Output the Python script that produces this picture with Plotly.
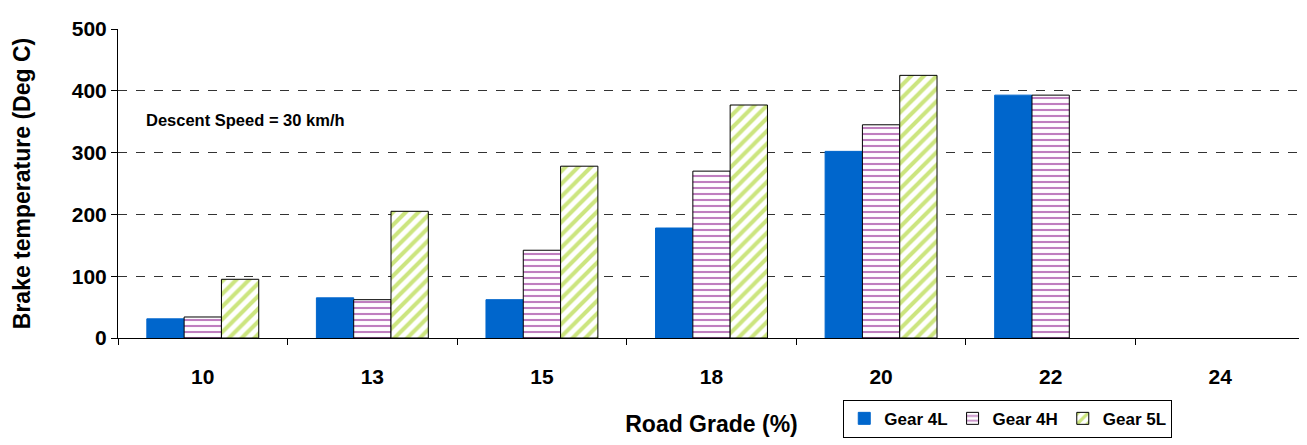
import plotly.graph_objects as go

grades = ["10", "13", "15", "18", "20", "22", "24"]
gear_4l = [31, 65, 62, 178, 302, 393, None]
gear_4h = [34, 62, 142, 270, 345, 393, None]
gear_5l = [95, 205, 278, 377, 425, None, None]

fig = go.Figure()
fig.add_bar(x=grades, y=gear_4l, name="<b>Gear 4L</b>", marker=dict(color="#0066CC", line=dict(color="#0066CC", width=1)))
fig.add_bar(x=grades, y=gear_4h, name="<b>Gear 4H</b>",
            marker=dict(color="white", line=dict(color="black", width=1),
                        pattern=dict(shape="-", fgcolor="#800080", bgcolor="white", size=6, solidity=0.35)))
fig.add_bar(x=grades, y=gear_5l, name="<b>Gear 5L</b>",
            marker=dict(color="white", line=dict(color="black", width=1),
                        pattern=dict(shape="/", fgcolor="#99CC00", bgcolor="white", size=9, solidity=0.45)))

fig.add_annotation(x=0.022, y=0.705, xref="paper", yref="paper", text="<b>Descent Speed = 30 km/h</b>",
                   showarrow=False, xanchor="left", yanchor="middle", font=dict(size=16.5, color="black"))

fig.update_layout(
    width=1299, height=437, barmode="group", bargap=0.34, bargroupgap=0,
    margin=dict(l=110, r=2, t=21, b=107, autoexpand=False),
    plot_bgcolor="white", paper_bgcolor="white",
    font=dict(family="Liberation Sans, Arial", size=21, color="black"),
    legend=dict(orientation="h", x=0.611, y=-0.2, xanchor="left", yanchor="top",
                bordercolor="black", borderwidth=1, font=dict(size=17), traceorder="normal"),
    xaxis=dict(title=dict(text="<b>Road Grade (%)</b>", font=dict(size=23), standoff=28), tickfont=dict(size=21),
               automargin=False, ticklabelstandoff=20,
               tickprefix="<b>", ticksuffix="</b>", ticks="outside", tickson="boundaries", ticklen=6,
               showline=True, linecolor="black", tickcolor="black"),
    yaxis=dict(title=dict(text="<b>Brake temperature (Deg C)</b>", font=dict(size=23), standoff=34), range=[0, 500], dtick=100, automargin=False,
               tickfont=dict(size=21),
               tickprefix="<b>", ticksuffix="</b>", ticks="outside", ticklen=6,
               showline=True, linecolor="black", tickcolor="black",
               showgrid=True, gridcolor="#333", griddash="dash", gridwidth=0.6, zeroline=False),
)
fig.write_html("out.html")
